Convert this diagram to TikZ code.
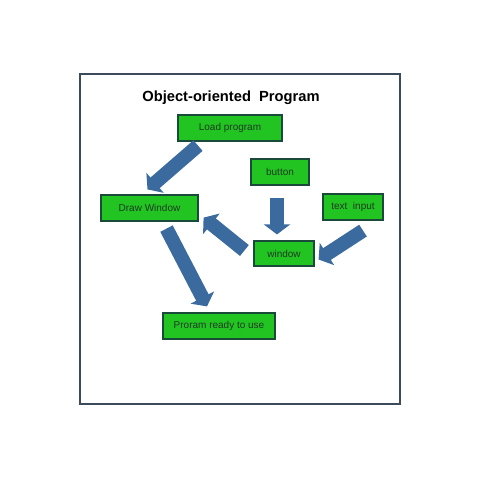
\documentclass[tikz,border=0pt]{standalone}
\usepackage{fontspec}
\setmainfont{Liberation Sans}
\usetikzlibrary{arrows.meta,calc}
\definecolor{boxgreen}{HTML}{22C422}
\definecolor{boxedge}{HTML}{1A4A3A}
\definecolor{boxtext}{HTML}{1E3A22}
\definecolor{arrowblue}{HTML}{3A6A9E}
\definecolor{framecol}{HTML}{3C4A5A}
\tikzset{
  stepbox/.style={draw=boxedge, line width=1.2pt, fill=boxgreen, text=boxtext,
    font=\fontsize{10}{11}\selectfont, inner sep=0pt, anchor=center},
  bigarrow/.style={draw=arrowblue, line width=14pt,
    -{Triangle[length=10pt,width=26pt,fill=arrowblue]}},
}
\begin{document}
\begin{tikzpicture}[x=1pt,y=-1pt]
\useasboundingbox (0,0) rectangle (480,480);
\fill[white] (0,0) rectangle (480,480);
\node[draw=framecol, line width=1.5pt, minimum width=320pt, minimum height=330pt, inner sep=0pt] (frame) at (240,239) {};
\node[font=\bfseries\fontsize{14.7}{16}\selectfont] (title) at (231,98) {Object-oriented\ \ Program};
\node[stepbox, minimum width=104pt, minimum height=26pt] (load) at (230,128) {Load program};
\node[stepbox, minimum width=58pt, minimum height=26pt] (button) at (280,172) {button};
\node[stepbox, minimum width=97pt, minimum height=26pt] (draw) at (149.5,208) {Draw Window};
\node[stepbox, minimum width=60pt, minimum height=26pt] (text) at (353,207) {text\ \ input};
\node[stepbox, minimum width=60pt, minimum height=25pt] (window) at (284,253.5) {window};
\node[stepbox, minimum width=112pt, minimum height=26pt] (ready) at (219,326) {Proram ready to use};
\draw[bigarrow] ($(load.south)+(-32,4)$) -- ($(draw.north)+(-2,-5)$);
\draw[bigarrow] ($(button.south)+(-3,12)$) -- ($(window.north)+(-7,-6)$);
\draw[bigarrow] ($(text.south)+(10,10)$) -- ($(window.east)+(4,6)$);
\draw[bigarrow] ($(window.west)+(-9,-3)$) -- ($(draw.south east)+(5,-4)$);
\draw[bigarrow] ($(draw.south)+(17,7)$) -- ($(ready.north)+(-12,-6)$);
\end{tikzpicture}
\end{document}
